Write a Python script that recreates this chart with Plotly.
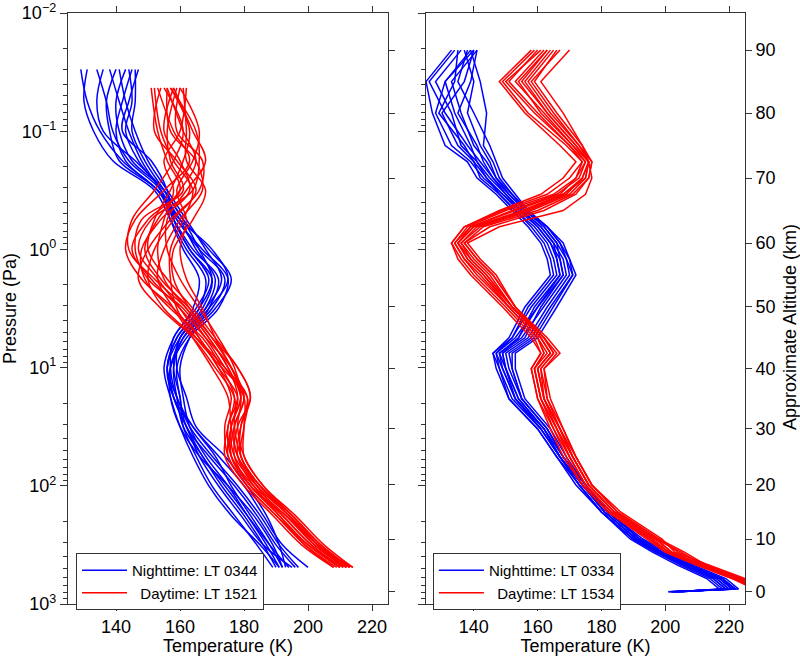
import numpy as np
import plotly.graph_objects as go

# ---------------- axis ticks ----------------
temp_ticks = [140, 160, 180, 200, 220]
pressure_ticks = [0.01, 0.1, 1, 10, 100, 1000]
pressure_tick_labels = ["10<sup>−2</sup>", "10<sup>−1</sup>", "10<sup>0</sup>",
                        "10<sup>1</sup>", "10<sup>2</sup>", "10<sup>3</sup>"]
minor_pressure_ticks = [k * 10.0 ** e for e in range(-2, 3) for k in range(2, 10)]
alt_ticks = [0, 10, 20, 30, 40, 50, 60, 70, 80, 90]
alt_tick_pressure = [787, 282, 98.4, 33.0, 10.2, 3.07, 0.883, 0.249, 0.0702, 0.0206]

# ---------------- left panel (pressure grid, Pa) ----------------
p_night_left = [0.03, 0.056, 0.1, 0.178, 0.316, 0.56, 1, 1.78, 3.16, 5.6, 10, 17.8,
                31.6, 56, 100, 178, 316, 490]
night_left = [
    [129, 131, 135, 142, 153, 159, 166, 174, 170, 161, 157, 158, 162, 167, 174, 181, 188, 194],
    [131, 130, 133, 139, 152, 157, 162, 168, 166, 159, 156, 159, 163, 170, 178, 185, 191, 197],
    [134, 137, 139, 144, 154, 158, 163, 170, 167, 160, 158, 160, 161, 165, 170, 177, 184, 189],
    [136, 134, 136, 146, 155, 161, 169, 176, 171, 162, 157, 157, 160, 166, 175, 183, 189, 192],
    [138, 141, 144, 148, 154, 160, 165, 171, 168, 160, 156, 158, 164, 172, 180, 186, 192, 200],
    [140, 137, 138, 141, 153, 158, 164, 172, 169, 163, 160, 161, 163, 168, 175, 181, 187, 191],
    [141, 143, 146, 150, 156, 162, 168, 173, 168, 160, 159, 162, 165, 174, 181, 187, 191, 193],
    [143, 140, 141, 145, 155, 159, 167, 175, 172, 163, 159, 160, 162, 169, 177, 184, 190, 196],
    [144, 145, 143, 147, 154, 157, 161, 166, 164, 158, 155, 157, 160, 164, 169, 176, 185, 191],
    [145, 142, 140, 143, 153, 160, 170, 175, 169, 161, 158, 159, 161, 167, 173, 180, 186, 190],
    [146, 146, 145, 149, 155, 161, 166, 170, 166, 159, 156, 158, 162, 166, 172, 179, 186, 195],
    [147, 144, 142, 151, 156, 158, 163, 169, 165, 158, 157, 159, 164, 171, 176, 182, 188, 192],
]

p_day_left = [0.043, 0.1, 0.178, 0.316, 0.56, 1, 1.78, 3.16, 5.6, 10, 17.8, 31.6, 56,
              100, 178, 316, 490]
day_left = [
    [151, 153, 156, 160, 150, 145, 151, 160, 168, 176, 180, 177, 176, 182, 192, 201, 211],
    [153, 158, 163, 155, 146, 143, 148, 158, 166, 172, 176, 174, 175, 181, 190, 199, 209],
    [154, 152, 159, 165, 158, 152, 150, 155, 165, 174, 181, 179, 179, 185, 195, 204, 213],
    [155, 161, 158, 152, 145, 144, 152, 162, 169, 175, 178, 175, 176, 183, 193, 202, 212],
    [156, 157, 165, 167, 160, 155, 153, 158, 164, 170, 175, 176, 178, 184, 194, 203, 214],
    [157, 163, 161, 157, 152, 150, 156, 164, 171, 178, 182, 178, 177, 182, 191, 200, 210],
    [158, 155, 160, 163, 154, 148, 149, 157, 167, 173, 177, 175, 174, 180, 189, 198, 208],
    [158, 164, 168, 162, 156, 156, 160, 166, 172, 177, 179, 176, 177, 184, 194, 203, 212],
    [159, 156, 157, 161, 148, 146, 150, 161, 168, 174, 180, 180, 180, 186, 196, 205, 214],
    [160, 166, 164, 159, 162, 160, 162, 167, 171, 176, 180, 177, 178, 185, 195, 204, 213],
    [160, 159, 167, 166, 157, 150, 147, 154, 164, 171, 177, 177, 179, 184, 192, 201, 210],
    [161, 162, 162, 168, 164, 158, 158, 163, 170, 178, 182, 179, 178, 183, 191, 199, 208],
    [162, 160, 155, 158, 155, 153, 155, 162, 169, 175, 179, 178, 180, 186, 195, 203, 211],
    [157, 165, 166, 164, 151, 147, 153, 160, 166, 172, 178, 176, 175, 181, 190, 200, 210],
    [152, 154, 158, 164, 161, 157, 157, 159, 165, 173, 181, 180, 179, 185, 194, 202, 212],
    [156, 161, 165, 160, 153, 149, 154, 163, 170, 176, 179, 176, 176, 182, 193, 203, 213],
]

# ---------------- right panel (altitude grid, km) ----------------
alt_right = [0, 0.5, 2.5, 5, 7.5, 10, 15, 20, 25, 30, 35, 40, 42.5, 45, 50, 55, 57.5,
             60, 62.5, 65, 67.5, 70, 72.5, 75, 80, 85, 90]
night_right = [
    [201, 222, 218, 208, 199, 192, 182, 175, 168, 163, 155, 152, 151, 158, 164, 171, 169, 166, 162, 156, 151, 146, 142, 138, 131, 126, 134],
    [202, 221, 217, 207, 198, 191, 181, 174, 167, 162, 154, 150, 148, 155, 162, 169, 168, 165, 161, 155, 150, 145, 141, 136, 133, 128, 136],
    [203, 223, 219, 209, 200, 193, 182, 175, 169, 164, 156, 153, 153, 160, 166, 172, 170, 168, 163, 157, 153, 149, 147, 145, 140, 135, 138],
    [202, 220, 216, 206, 198, 191, 181, 174, 167, 161, 153, 149, 147, 153, 160, 168, 167, 164, 160, 154, 149, 143, 139, 133, 128, 131, 139],
    [204, 219, 215, 206, 197, 190, 180, 173, 167, 161, 152, 148, 146, 152, 158, 166, 165, 163, 159, 153, 148, 142, 140, 135, 130, 137, 140],
    [203, 222, 218, 208, 199, 192, 182, 175, 168, 163, 155, 151, 150, 157, 163, 170, 169, 167, 163, 157, 152, 147, 144, 140, 136, 133, 141],
    [205, 218, 214, 205, 197, 190, 180, 173, 166, 160, 151, 147, 146, 151, 156, 164, 163, 161, 157, 152, 147, 141, 138, 131, 127, 125, 133],
    [202, 221, 217, 207, 198, 191, 181, 174, 168, 162, 154, 150, 149, 156, 161, 168, 167, 166, 162, 156, 151, 147, 145, 142, 138, 140, 137],
    [204, 217, 213, 204, 196, 189, 180, 172, 166, 160, 151, 148, 147, 152, 157, 165, 164, 162, 158, 153, 148, 144, 141, 139, 134, 131, 140],
    [203, 220, 216, 207, 198, 191, 181, 174, 167, 162, 153, 150, 149, 154, 159, 167, 166, 164, 160, 155, 150, 146, 143, 141, 135, 139, 141],
    [201, 222, 217, 208, 199, 192, 182, 175, 168, 163, 155, 152, 152, 159, 165, 171, 170, 167, 163, 156, 152, 148, 146, 143, 144, 142, 139],
    [205, 219, 215, 206, 197, 190, 180, 173, 167, 161, 153, 149, 148, 154, 160, 167, 166, 165, 161, 155, 149, 144, 140, 137, 129, 134, 135],
]
day_right = [
    [233, 230, 223, 212, 202, 197, 184, 176, 171, 167, 162, 160, 164, 161, 152, 144, 139, 135, 140, 155, 168, 174, 176, 172, 163, 155, 163],
    [232, 229, 222, 211, 201, 196, 183, 175, 170, 166, 161, 159, 162, 160, 151, 142, 137, 134, 138, 150, 165, 172, 175, 170, 160, 151, 160],
    [234, 231, 224, 213, 206, 198, 185, 177, 172, 168, 163, 162, 166, 162, 153, 146, 141, 137, 145, 162, 172, 176, 177, 174, 166, 159, 166],
    [231, 228, 221, 210, 200, 195, 182, 174, 169, 165, 160, 158, 161, 159, 150, 140, 136, 133, 137, 149, 163, 170, 174, 169, 157, 149, 159],
    [233, 230, 223, 212, 205, 197, 184, 176, 171, 167, 162, 161, 165, 162, 152, 145, 140, 136, 142, 158, 170, 175, 176, 173, 164, 157, 165],
    [232, 229, 222, 211, 201, 196, 183, 175, 170, 165, 161, 159, 163, 160, 151, 143, 138, 135, 139, 152, 166, 173, 175, 171, 162, 153, 162],
    [235, 232, 225, 214, 203, 199, 186, 177, 172, 168, 164, 162, 167, 163, 153, 147, 142, 138, 148, 168, 175, 177, 176, 174, 168, 161, 170],
    [232, 229, 221, 210, 200, 194, 182, 174, 168, 164, 160, 158, 161, 158, 149, 139, 135, 133, 137, 148, 161, 168, 172, 167, 156, 148, 158],
    [233, 230, 223, 212, 202, 197, 184, 176, 171, 166, 162, 160, 164, 161, 152, 144, 139, 136, 141, 157, 169, 174, 176, 172, 163, 156, 164],
    [234, 231, 224, 213, 204, 198, 185, 177, 172, 167, 163, 161, 165, 162, 153, 146, 141, 137, 143, 160, 171, 176, 177, 173, 165, 158, 167],
    [232, 229, 222, 211, 201, 195, 183, 175, 170, 166, 161, 159, 162, 160, 151, 141, 137, 134, 139, 153, 167, 172, 174, 170, 159, 150, 161],
    [233, 230, 223, 212, 202, 197, 184, 176, 171, 167, 162, 160, 164, 161, 152, 143, 138, 135, 140, 156, 168, 175, 176, 171, 161, 154, 163],
]

labels_left = ["Nighttime: LT 0344", "\u00a0\u00a0Daytime: LT 1521"]
labels_right = ["Nighttime: LT 0334", "\u00a0\u00a0Daytime: LT 1534"]


def alt_to_pressure(alts):
    return 10 ** np.interp(alts, alt_ticks, np.log10(alt_tick_pressure))


p_right = alt_to_pressure(alt_right)

FONT = "Liberation Sans, Arial, sans-serif"
AXC = "#333333"
fig = go.Figure()


def add_group(profiles, pressures, color, name, xa, ya, leg, shape):
    for i, t in enumerate(profiles):
        fig.add_trace(go.Scatter(
            x=t, y=pressures, mode="lines", name=name,
            line=dict(color=color, width=1.5, shape=shape),
            xaxis=xa, yaxis=ya, legend=leg, legendgroup=leg + name,
            showlegend=(i == 0), hoverinfo="skip"))


# night traces on the pressure axes, day traces on the overlaid altitude axes
# (both share the identical log-pressure range)
add_group(night_left, p_night_left, "#0000ff", labels_left[0], "x", "y", "legend", "spline")
add_group(day_left, p_day_left, "#ff0000", labels_left[1], "x", "y3", "legend", "spline")
add_group(night_right, p_right, "#0000ff", labels_right[0], "x2", "y2", "legend2", "linear")
add_group(day_right, p_right, "#ff0000", labels_right[1], "x2", "y4", "legend2", "linear")

tickfont = dict(family=FONT, size=18, color="black")
common_x = dict(range=[125, 225], tickmode="array", tickvals=temp_ticks, ticks="outside",
                ticklen=6, tickwidth=1.2, tickcolor=AXC, showline=True, linecolor=AXC,
                linewidth=1.3, mirror="ticks", showgrid=False, zeroline=False,
                tickfont=tickfont, automargin=False,
                title=dict(text="Temperature (K)", font=tickfont, standoff=0))
press_y = dict(type="log", range=[3, -2], tickmode="array", tickvals=pressure_ticks,
               ticktext=pressure_tick_labels, ticks="outside", ticklen=7, tickwidth=1.2,
               tickcolor=AXC, showline=True, linecolor=AXC, linewidth=1.3, mirror=True,
               showgrid=False, zeroline=False, tickfont=tickfont, automargin=False,
               ticklabeloverflow="allow",
               minor=dict(tickmode="array", tickvals=minor_pressure_ticks, ticks="outside",
                          ticklen=4, tickwidth=1, tickcolor=AXC, showgrid=False))
alt_y = dict(type="log", range=[3, -2], tickmode="array", tickvals=alt_tick_pressure,
             ticktext=[str(a) for a in alt_ticks], ticks="outside", ticklen=6, tickwidth=1.2,
             tickcolor=AXC, showline=False, showgrid=False, zeroline=False,
             tickfont=tickfont, side="right", automargin=False)

legend_style = dict(bgcolor="white", bordercolor=AXC, borderwidth=1,
                    font=dict(family=FONT, size=15, color="black"),
                    xanchor="left", yanchor="top", itemwidth=45, tracegroupgap=0,
                    traceorder="normal")

fig.update_layout(
    width=800, height=656,
    margin=dict(l=68, r=55, t=13, b=52, autoexpand=False),
    paper_bgcolor="white", plot_bgcolor="white",
    font=dict(family=FONT, size=18, color="black"),
    xaxis=dict(common_x, domain=[0, 0.4727], anchor="y"),
    yaxis=dict(press_y, anchor="x",
               title=dict(text="Pressure (Pa)", font=tickfont, standoff=8)),
    yaxis3=dict(alt_y, overlaying="y", anchor="x", showticklabels=False),
    xaxis2=dict(common_x, domain=[0.5288, 1.0], anchor="y2"),
    yaxis2=dict(press_y, anchor="x2", showticklabels=False),
    yaxis4=dict(alt_y, overlaying="y2", anchor="x2"),
    legend=dict(legend_style, x=0.0118, y=0.0863),
    legend2=dict(legend_style, x=0.539, y=0.0863),
    showlegend=True,
    annotations=[dict(text="Approximate Altitude (km)", xref="paper", yref="paper",
                      x=1.0665, y=0.4687, xanchor="center", yanchor="middle",
                      textangle=-90, showarrow=False, font=tickfont)],
)

fig.write_html("out.html", config={"displayModeBar": False},
               post_script="document.body.style.margin='0';document.body.style.overflow='hidden';")
